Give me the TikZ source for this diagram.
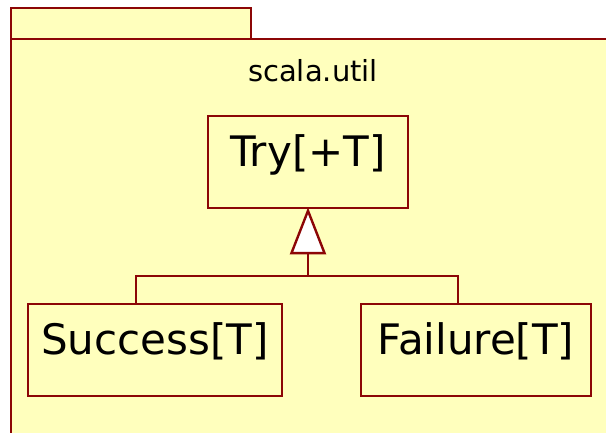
\documentclass[tikz,border=0pt]{standalone}
\usepackage{fontspec}
\setmainfont{DejaVu Sans}
\usetikzlibrary{arrows.meta}
\definecolor{pkgfill}{RGB}{255,255,189}
\definecolor{umlred}{RGB}{140,6,6}
\begin{document}
\begin{tikzpicture}[
	x=1pt, y=-1pt,
	line width=2.4pt,
	pkg/.style={draw=umlred, fill=pkgfill},
	classbox/.style={shape=rectangle, draw=umlred, fill=pkgfill, inner sep=0pt, anchor=north,
		text height=50pt, text depth=42pt, align=center, font=\fontsize{42}{48}\selectfont},
	inherit/.style={draw=umlred, shorten >=-2pt, -{Triangle[length=47pt, width=36pt, fill=white, line width=2.4pt]}},
] 
\useasboundingbox (0,0) rectangle (606,433);
\clip (0,0) rectangle (606,433);
% package
\draw[pkg] (11,8) rectangle (251,39);
\draw[pkg] (11,39) rectangle (640,470);
\node[font=\fontsize{29}{34}\selectfont, anchor=base] (pkgname) at (313,82) {scala.util};

% classes
\node[classbox, text width=200pt] (try) at (308,115) {Try[+T]};
\node[classbox, text width=254pt] (success) at (155,303) {Success[T]};
\node[classbox, text width=230pt] (failure) at (476,303) {Failure[T]};

% generalization
\coordinate (fork) at (try.south |- 0,276);
\draw[umlred] ([xshift=109pt]success.north west) |- (fork) -| ([xshift=98pt]failure.north west);
\draw[inherit] (fork) -- (try.south);
\end{tikzpicture}
\end{document}
